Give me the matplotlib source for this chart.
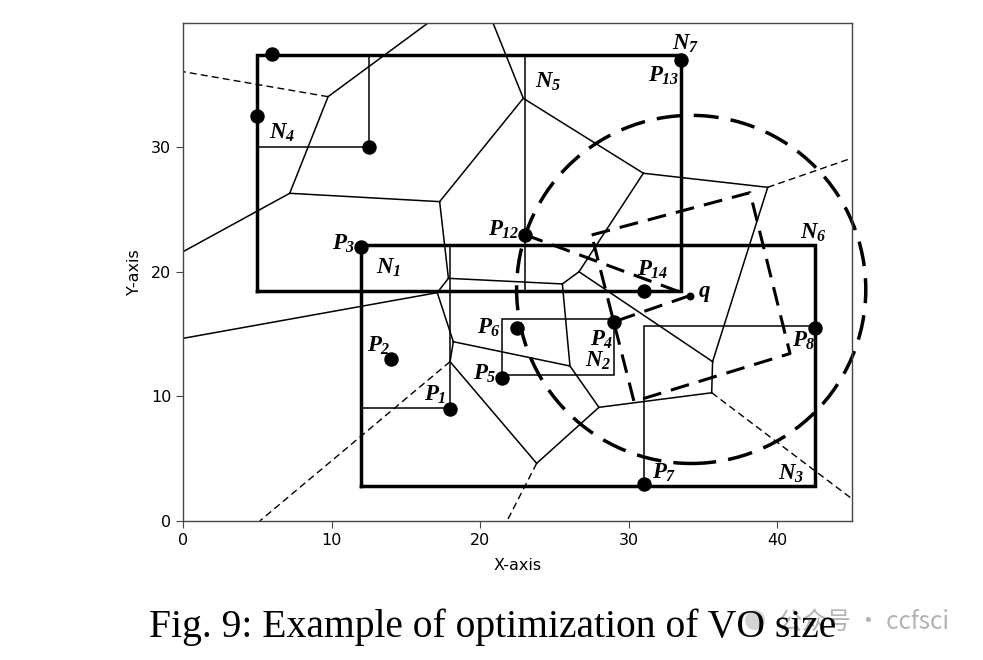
import matplotlib
matplotlib.use("Agg")
import matplotlib.pyplot as plt
from matplotlib.patches import Ellipse, Circle
from matplotlib.transforms import IdentityTransform

plt.rcParams['mathtext.fontset'] = 'custom'
plt.rcParams['mathtext.it'] = 'Liberation Serif:italic:bold'
plt.rcParams['mathtext.rm'] = 'Liberation Serif:italic:bold'
plt.rcParams['mathtext.bf'] = 'Liberation Serif:italic:bold'

# ---------------- data ----------------
# data points (x, y)
point_x = [18, 14, 12, 29, 21.5, 22.5, 31, 42.5, 6, 5, 12.5, 23, 33.5, 31]
point_y = [9, 13, 22, 16, 11.5, 15.5, 3, 15.5, 37.5, 32.5, 30, 23, 37, 18.5]
query_x = [34.1]
query_y = [18.1]

# MBR nodes: x0, x1, y0, y1
node_names = ['N1', 'N2', 'N3', 'N4', 'N5', 'N6', 'N7']
node_x0 = [12, 21.5, 31, 5, 23, 12, 5]
node_x1 = [18, 29, 42.5, 12.5, 33.5, 42.5, 33.5]
node_y0 = [9.1, 11.7, 2.85, 30, 18.5, 2.85, 18.5]
node_y1 = [22.2, 16.25, 15.7, 37.45, 37.45, 22.2, 37.45]
node_thick = [False, False, False, False, False, True, True]

# Voronoi vertices
vor_x = [9.76, 7.18, 17.27, 22.9, 30.98, 39.35, 26.65, 35.64, 35.58, 27.99, 23.8, 26.04, 18.19, 17.97, 25.53, 17.86, 17.11]
vor_y = [34.08, 26.32, 25.65, 33.95, 27.93, 26.8, 20.02, 12.8, 10.3, 9.13, 4.63, 12.45, 14.4, 12.8, 19.04, 19.49, 18.34]
# finite edges (vertex index pairs)
vor_edges = [(0, 1), (1, 2), (2, 3), (3, 4), (4, 5), (4, 6), (5, 7), (6, 7), (6, 14),
             (7, 8), (8, 9), (9, 10), (9, 11), (11, 14), (11, 12), (14, 15), (15, 2),
             (15, 16), (16, 12), (12, 13), (13, 10)]
# solid edges running to the frame: vertex index, far end x, far end y
vor_out_solid = [(0, 16.49, 40), (3, 20.86, 40), (1, 0, 21.63), (16, 0, 14.67)]
# dashed (infinite) ridges: vertex index, far end x, far end y
vor_out_dashed = [(0, 0, 36.09), (5, 45, 29.14), (8, 45, 1.8), (10, 21.8, 0), (13, 5.16, 0)]

# optimized VO polygon
vo_x = [27.5, 38.16, 40.85, 30.35]
vo_y = [22.97, 26.37, 13.45, 9.6]

# search circle (centre, radii)
circle_cx, circle_cy = 34.2, 18.6
circle_rx, circle_ry = 11.75, 13.98

# labels: text, x, y (left, centre)
labels = [('$N_4$', 5.79, 31.2), ('$N_5$', 23.69, 35.26), ('$N_7$', 32.89, 38.37),
          ('$P_{13}$', 31.31, 35.76), ('$N_6$', 41.52, 23.2), ('$P_{12}$', 20.52, 23.45),
          ('$P_3$', 10.03, 22.25), ('$N_1$', 12.97, 20.36), ('$P_2$', 12.38, 14.06),
          ('$P_1$', 16.2, 10.16), ('$P_6$', 19.8, 15.54), ('$P_5$', 19.5, 11.82),
          ('$P_4$', 27.39, 14.54), ('$N_2$', 27.05, 12.89), ('$P_{14}$', 30.53, 20.16),
          ('$q$', 34.68, 18.39), ('$P_8$', 40.96, 14.48), ('$N_3$', 40.06, 3.8),
          ('$P_7$', 31.54, 3.9)]

# ---------------- plot ----------------
fig = plt.figure(figsize=(9.83, 6.6), dpi=100)
ax = fig.add_axes([0.1862, 0.2106, 0.6802, 0.7546])
ax.set_xlim(0, 45)
ax.set_ylim(0, 40)

thin = 1.1
for a, b in vor_edges:
    ax.plot([vor_x[a], vor_x[b]], [vor_y[a], vor_y[b]], color='black', lw=thin)
for i, ex, ey in vor_out_solid:
    ax.plot([vor_x[i], ex], [vor_y[i], ey], color='black', lw=thin)
for i, ex, ey in vor_out_dashed:
    ax.plot([vor_x[i], ex], [vor_y[i], ey], color='black', lw=1.0,
            linestyle=(0, (5, 3)))

for x0, x1, y0, y1, thick in zip(node_x0, node_x1, node_y0, node_y1, node_thick):
    ax.plot([x0, x1, x1, x0, x0], [y0, y0, y1, y1, y0], color='black',
            lw=2.5 if thick else thin, solid_joinstyle='miter')

# optimized VO polygon and query links
dash_vo = (0, (6.2, 3.3))
ax.plot(vo_x + vo_x[:1], vo_y + vo_y[:1], color='black', lw=2.2, linestyle=dash_vo)
ax.plot([point_x[11], query_x[0]], [point_y[11], query_y[0]], color='black', lw=2.2,
        linestyle=dash_vo)
ax.plot([query_x[0], point_x[3]], [query_y[0], point_y[3]], color='black', lw=2.2,
        linestyle=dash_vo)

circ = Ellipse((circle_cx, circle_cy), 2 * circle_rx, 2 * circle_ry, fill=False,
               edgecolor='black', lw=2.5, linestyle=(0, (7.2, 3.5)), clip_on=False)
ax.add_patch(circ)

ax.plot(point_x, point_y, 'o', color='black', markersize=9.4, clip_on=False, zorder=5)
ax.plot(query_x, query_y, 'o', color='black', markersize=4.7, zorder=5)

for txt, lx, ly in labels:
    ax.text(lx, ly, txt, fontsize=16.5, ha='left', va='center', zorder=6)

for s in ax.spines.values():
    s.set_color('#444444')
    s.set_linewidth(1.0)
ax.set_xticks([0, 10, 20, 30, 40])
ax.set_yticks([0, 10, 20, 30])
ax.tick_params(labelsize=11.5, length=5, color='#444444')
ax.set_xlabel('X-axis', fontsize=11.5)
ax.set_ylabel('Y-axis', fontsize=11.5)
ax.xaxis.set_label_coords(0.5, -0.075)
ax.yaxis.set_label_coords(-0.062, 0.5)

# watermark icon and text
fig.patches.append(Circle((755, 660 - 620), 10, transform=IdentityTransform(),
                          facecolor='#c9c9c9', edgecolor='none', alpha=0.8, zorder=0))
fig.text(778 / 983, 1 - 622 / 660, '公众号 · ccfsci', fontsize=17.5, color='#b3b3b3',
         family=['Noto Sans CJK SC', 'DejaVu Sans'], ha='left', va='center', zorder=0)

fig.text(0.5015, 1 - 627 / 660, 'Fig. 9: Example of optimization of VO size',
         fontsize=28.5, family='Liberation Serif', ha='center', va='center', zorder=3)

fig.savefig('out.png', dpi=100)
